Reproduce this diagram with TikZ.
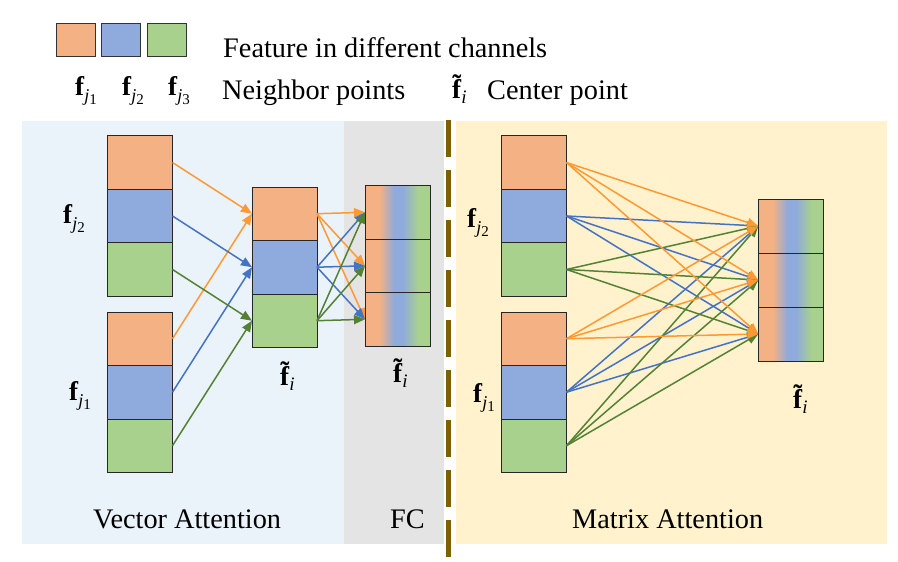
\documentclass[tikz,border=0pt]{standalone}
\usepackage{fontspec}
\setmainfont{Liberation Serif}
\usetikzlibrary{arrows.meta}
\definecolor{cor}{HTML}{F4B183}
\definecolor{cob}{HTML}{8FAADC}
\definecolor{cog}{HTML}{A9D18E}
\definecolor{lor}{HTML}{FF9933}
\definecolor{lbl}{HTML}{4472C4}
\definecolor{lgr}{HTML}{548235}
\definecolor{bgblue}{HTML}{EAF2FA}
\definecolor{bggray}{HTML}{E4E4E4}
\definecolor{bgyel}{HTML}{FFF2CC}
\definecolor{dashc}{HTML}{7F6000}
\pgfdeclarehorizontalshading{fcgrad}{100bp}{color(0bp)=(cor); color(36bp)=(cor); color(47.5bp)=(cob); color(54bp)=(cob); color(66bp)=(cog); color(100bp)=(cog)}
\newcommand\fjsub[1]{\textbf{f}\raisebox{-6pt}{\fontsize{18}{18}\selectfont\textit{j}\raisebox{-3.5pt}{\fontsize{15}{15}\selectfont #1}}}
\newcommand\tildef{\leavevmode\ooalign{\textbf{f}\cr\hidewidth\raisebox{5pt}{\textbf{\char"02DC}}\hidewidth\cr}}
\newcommand\fisub{\tildef\raisebox{-5pt}{\fontsize{19}{19}\selectfont\textit{i}}}
\begin{document}
\begin{tikzpicture}[x=1pt,y=-1pt,
  cell/.style={draw=black!85, line width=0.9pt, minimum width=65pt, minimum height=53.5pt, inner sep=0pt, outer sep=0pt},
  legsq/.style={draw=black!80, line width=0.9pt, minimum width=39pt, minimum height=33pt, inner sep=0pt},
  arr/.style={line width=1.5pt, -{Triangle[length=11pt,width=9pt]}},
  txt/.style={font=\fontsize{28.3}{32}\selectfont, inner sep=0pt, anchor=base west},
  mlab/.style={font=\fontsize{27}{30}\selectfont, inner sep=0pt, anchor=base west}]
\useasboundingbox (0,0) rectangle (898,562);
% panels
\fill[bgblue] (22,121) rectangle (344,544);
\fill[bggray] (344,121) rectangle (444,544);
\fill[bgyel] (456,121) rectangle (887,544);
\draw[dashc, line width=5pt, dash pattern=on 37pt off 13pt] (448,120) -- (448,558);
% legend
\node[legsq, fill=cor] (lg1) at (76.2,40) {};
\node[legsq, fill=cob] (lg2) at (120.5,40) {};
\node[legsq, fill=cog] (lg3) at (167,40) {};
\node[txt] (ltxt1) at (223,57) {Feature in different channels};
\node[mlab] (lf1) at (75,95) {\fjsub{1}};
\node[mlab] (lf2) at (122,95) {\fjsub{2}};
\node[mlab] (lf3) at (168,95) {\fjsub{3}};
\node[txt] (ltxt2) at (222,99.5) {Neighbor points};
\node[mlab] (lfi) at (452,98) {\fisub};
\node[txt] (ltxt3) at (487,99.5) {Center point};
% vector attention stacks
\node[cell, fill=cor] (a1) at (140,162.5) {};
\node[cell, fill=cob] (a2) at (140,216) {};
\node[cell, fill=cog] (a3) at (140,269.5) {};
\node[cell, fill=cor] (b1) at (140,338.7) {};
\node[cell, fill=cob] (b2) at (140,392.2) {};
\node[cell, fill=cog] (b3) at (140,445.7) {};
\node[cell, fill=cor] (m1) at (284.5,213.7) {};
\node[cell, fill=cob] (m2) at (284.5,267.2) {};
\node[cell, fill=cog] (m3) at (284.5,320.7) {};
\shade[shading=fcgrad] (365,185.5) rectangle (430,346.5);
\node[cell] (c1) at (397.5,212.3) {};
\node[cell] (c2) at (397.5,265.8) {};
\node[cell] (c3) at (397.5,319.3) {};
% labels
\node[mlab] (va2) at (63,223) {\fjsub{2}};
\node[mlab] (va1) at (69,400) {\fjsub{1}};
\node[mlab] (vam) at (280,385) {\fisub};
\node[mlab] (vac) at (393,382) {\fisub};
\node[txt] (vatxt) at (93,528) {Vector Attention};
\node[txt] (fctxt) at (390,528) {FC};
% vector attention arrows
\draw[arr, lor] (a1.east) -- (m1.west);
\draw[arr, lor] (b1.east) -- (m1.west);
\draw[arr, lbl] (a2.east) -- (m2.west);
\draw[arr, lbl] (b2.east) -- (m2.west);
\draw[arr, lgr] (a3.east) -- (m3.west);
\draw[arr, lgr] (b3.east) -- (m3.west);
\foreach \s/\c in {m1/lor,m2/lbl,m3/lgr}
  \foreach \t in {c1,c2,c3}
    \draw[arr, \c] (\s.east) -- (\t.west);
% matrix attention stacks
\node[cell, fill=cor] (p1) at (534,162.5) {};
\node[cell, fill=cob] (p2) at (534,216) {};
\node[cell, fill=cog] (p3) at (534,269.5) {};
\node[cell, fill=cor] (q1) at (534,338.7) {};
\node[cell, fill=cob] (q2) at (534,392.2) {};
\node[cell, fill=cog] (q3) at (534,445.7) {};
\shade[shading=fcgrad] (758.3,199) rectangle (823.3,361);
\node[cell, minimum height=54pt] (d1) at (790.8,226) {};
\node[cell, minimum height=54pt] (d2) at (790.8,280) {};
\node[cell, minimum height=54pt] (d3) at (790.8,334) {};
\node[mlab] (ma2) at (467,227) {\fjsub{2}};
\node[mlab] (ma1) at (473,402) {\fjsub{1}};
\node[mlab] (mad) at (793,408) {\fisub};
\node[txt] (matxt) at (572,528) {Matrix Attention};
\foreach \s/\c in {p2/lbl,q2/lbl,p3/lgr,q3/lgr,p1/lor,q1/lor}
  \foreach \t in {d1,d2,d3}
    \draw[arr, \c] (\s.east) -- (\t.west);
\end{tikzpicture}
\end{document}
